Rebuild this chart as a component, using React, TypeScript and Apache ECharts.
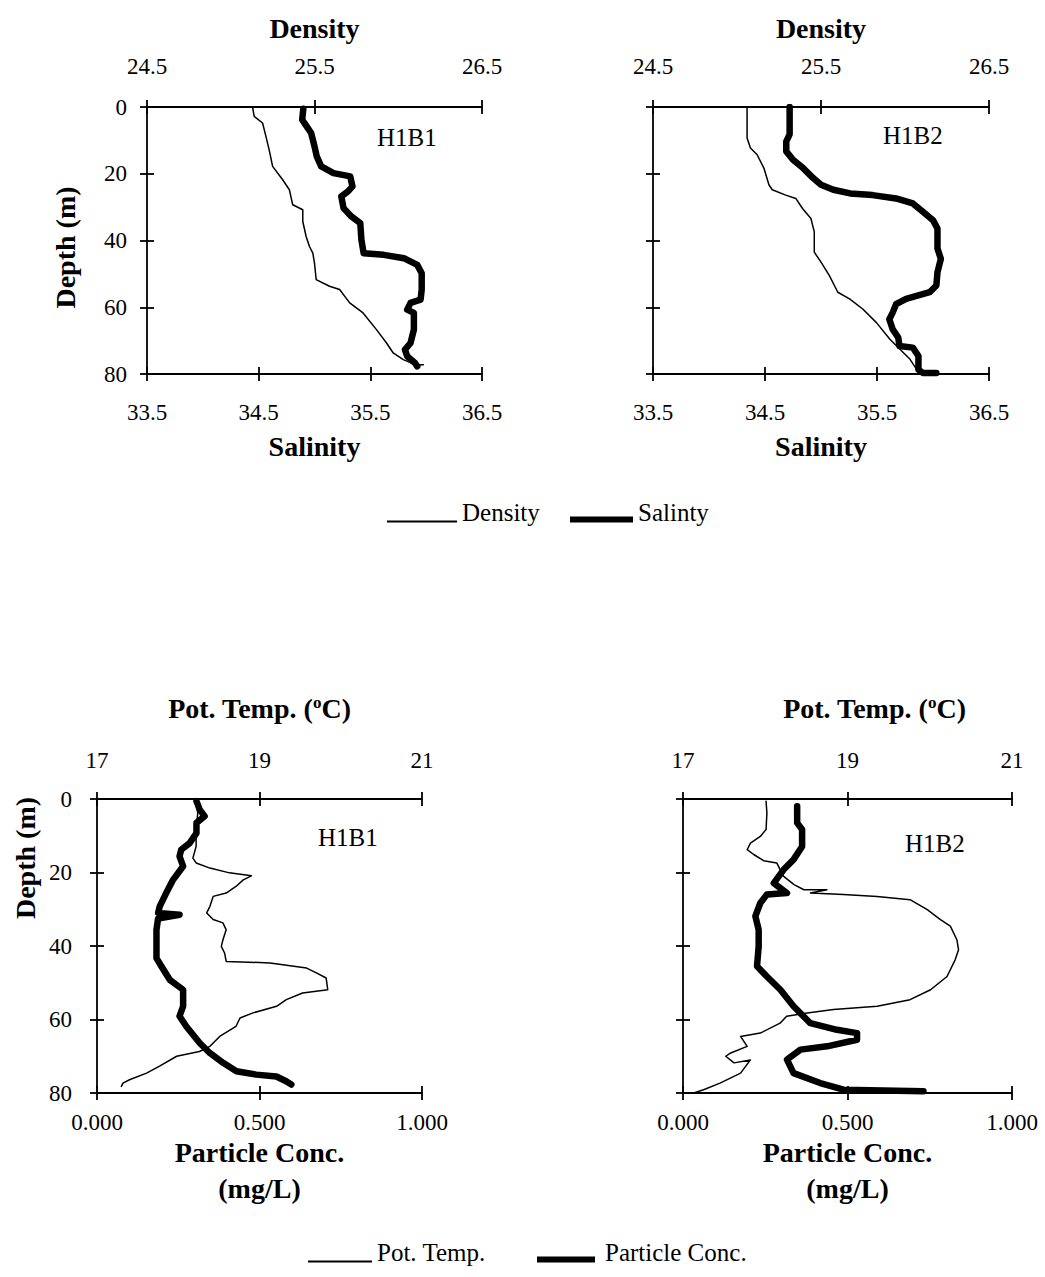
import React, { useEffect, useRef } from "react";
import * as echarts from "echarts";

const SERIF = "'Liberation Serif', 'Times New Roman', serif";

// Station H1B1 / H1B2 CTD profiles: [value, depth (m)]
const h1b1Density: number[][] = [
  [25.13, 0], [25.14, 2.8], [25.19, 4.8], [25.21, 8.8], [25.23, 13], [25.25, 17.8], [25.31, 21.8],
  [25.35, 24.8], [25.37, 29.3], [25.43, 30.8], [25.43, 34.3], [25.45, 38.8], [25.47, 41.8],
  [25.49, 43.8], [25.5, 46.8], [25.51, 51.7], [25.59, 53.7], [25.65, 54.7], [25.71, 58.7],
  [25.79, 61.7], [25.87, 66.7], [25.93, 70.7], [25.97, 73.7], [26.03, 75.7], [26.1, 77.2], [26.15, 77.2],
];
const h1b1Salinity: number[][] = [
  [34.9, 0.5], [34.89, 3.8], [34.93, 5.8], [34.97, 7.8], [35.0, 11.8], [35.02, 14.8], [35.06, 17.8],
  [35.17, 19.8], [35.32, 20.8], [35.34, 23.8], [35.3, 25.3], [35.24, 26.8], [35.26, 30.3],
  [35.33, 32.8], [35.41, 34.8], [35.42, 39.8], [35.44, 43.8], [35.62, 44.3], [35.8, 45.3],
  [35.92, 47.3], [35.96, 49.8], [35.96, 54.7], [35.95, 57.7], [35.86, 58.7], [35.83, 60.7],
  [35.89, 61.7], [35.89, 66.7], [35.86, 70.7], [35.81, 72.7], [35.83, 74.7], [35.9, 76.7], [35.92, 77.7],
];
const h1b2Density: number[][] = [
  [25.06, 0], [25.06, 9.3], [25.08, 12.3], [25.12, 14.3], [25.16, 18.3], [25.19, 23.3], [25.21, 24.8],
  [25.29, 26.4], [25.35, 27.4], [25.39, 30.4], [25.44, 33.4], [25.46, 37.4], [25.46, 43.5],
  [25.5, 46.5], [25.55, 50.5], [25.6, 55.5], [25.67, 57.5], [25.75, 60.6], [25.83, 64.6],
  [25.91, 69.6], [25.97, 72.6], [26.03, 75.6], [26.07, 78.7], [26.11, 79.7],
];
const h1b2Salinity: number[][] = [
  [34.72, 0], [34.72, 8.2], [34.69, 10.3], [34.69, 13.3], [34.75, 15.8], [34.84, 18.3], [34.93, 21.3],
  [35.0, 23.3], [35.11, 24.8], [35.26, 25.9], [35.46, 26.4], [35.67, 27.4], [35.82, 28.9],
  [35.91, 31.4], [36.0, 33.9], [36.04, 36.4], [36.04, 42.4], [36.07, 45.5], [36.04, 49.5],
  [36.03, 53.5], [35.97, 55.5], [35.76, 57.5], [35.67, 59.1], [35.64, 61.6], [35.61, 63.6],
  [35.64, 66.6], [35.69, 69.1], [35.7, 71.6], [35.82, 72.1], [35.87, 74.6], [35.87, 78.7],
  [35.91, 79.7], [36.03, 79.7],
];
const h1b1Temp: number[][] = [
  [18.22, 0.6], [18.24, 3.8], [18.22, 8.3], [18.22, 12.9], [18.18, 16.1], [18.22, 17.4], [18.39, 18.8],
  [18.63, 20.1], [18.9, 20.9], [18.8, 22.0], [18.71, 23.8], [18.59, 25.6], [18.43, 26.5],
  [18.39, 29.2], [18.35, 31.0], [18.43, 32.8], [18.55, 33.7], [18.59, 35.6], [18.55, 38.3],
  [18.53, 40.1], [18.57, 41.9], [18.59, 44.2], [19.13, 44.6], [19.58, 46.0], [19.7, 47.3],
  [19.82, 48.7], [19.84, 51.9], [19.53, 52.8], [19.33, 54.6], [19.21, 56.4], [18.92, 58.2],
  [18.76, 59.6], [18.71, 61.9], [18.51, 64.6], [18.39, 67.3], [18.26, 68.7], [17.98, 70.0],
  [17.77, 72.7], [17.61, 74.6], [17.4, 76.4], [17.32, 77.3], [17.3, 78.2],
];
const h1b1Particle: number[][] = [
  [0.306, 0.6], [0.316, 2.9], [0.331, 4.7], [0.306, 6.5], [0.306, 9.3], [0.285, 12.0], [0.259, 13.8],
  [0.254, 15.6], [0.265, 18.3], [0.234, 22.0], [0.213, 25.6], [0.193, 29.2], [0.188, 31.0],
  [0.254, 31.5], [0.188, 32.5], [0.183, 35.6], [0.183, 40.1], [0.183, 43.3], [0.198, 45.5],
  [0.224, 49.2], [0.265, 51.9], [0.265, 56.4], [0.254, 59.1], [0.275, 61.9], [0.316, 66.4],
  [0.347, 69.1], [0.388, 71.8], [0.429, 74.1], [0.49, 75.0], [0.552, 75.5], [0.582, 76.8], [0.598, 77.7],
];
const h1b2Temp: number[][] = [
  [18.01, 0.6], [18.02, 3.8], [18.01, 8.3], [17.94, 10.2], [17.82, 12.0], [17.78, 13.8], [17.86, 15.1],
  [17.98, 16.8], [18.14, 17.4], [18.22, 21.0], [18.35, 23.3], [18.47, 24.7], [18.75, 24.7],
  [18.55, 25.6], [18.95, 26.0], [19.36, 26.5], [19.76, 27.4], [19.97, 30.1], [20.13, 32.8],
  [20.25, 34.6], [20.33, 38.3], [20.35, 41.0], [20.31, 43.7], [20.21, 48.3], [20.01, 51.9],
  [19.76, 54.6], [19.36, 56.4], [18.83, 57.3], [18.51, 58.2], [18.26, 59.1], [18.18, 61.0],
  [17.94, 63.7], [17.7, 64.6], [17.78, 67.3], [17.58, 69.1], [17.52, 70.0], [17.62, 71.8],
  [17.82, 71.0], [17.7, 74.6], [17.45, 77.3], [17.25, 79.1], [17.13, 80],
];
const h1b2Particle: number[][] = [
  [0.347, 2.0], [0.347, 6.5], [0.362, 8.3], [0.362, 12.9], [0.336, 16.5], [0.306, 19.2], [0.276, 22.9],
  [0.316, 25.6], [0.255, 26.0], [0.235, 28.3], [0.22, 31.9], [0.23, 35.6], [0.23, 40.1],
  [0.225, 45.5], [0.255, 48.3], [0.296, 51.9], [0.336, 56.4], [0.387, 61.0], [0.468, 62.8],
  [0.529, 63.7], [0.529, 65.5], [0.438, 67.3], [0.357, 68.2], [0.316, 70.9], [0.336, 74.6],
  [0.417, 77.3], [0.488, 79.1], [0.731, 79.5],
];

// Axis tick values
const densityTicks = [24.5, 25.5, 26.5];
const salinityTicks = [33.5, 34.5, 35.5, 36.5];
const tempTicks = [17, 19, 21];
const particleTicks = [0, 0.5, 1];
const depthTicks = [0, 20, 40, 60, 80];

const BLACK = "#000";
const AXIS_W = 1.8;
const TICK_LEN = 7;

const tickFont = { fontFamily: SERIF, fontSize: 23, color: BLACK };
const nameFont = { fontFamily: SERIF, fontSize: 28, fontWeight: "bold" as const, color: BLACK };

type XCfg = {
  grid: number;
  pos: "top" | "bottom";
  min: number;
  max: number;
  ticks: number[];
  fmt: (v: number) => string;
  margin: number;
  name: string;
  nameGap: number;
  namePadding?: number[];
  lineHeight?: number;
  rich?: any;
};

function xPair(c: XCfg) {
  const common = {
    type: "value",
    gridIndex: c.grid,
    position: c.pos,
    min: c.min,
    max: c.max,
    splitLine: { show: false },
  };
  return [
    {
      ...common,
      axisLine: { show: true, onZero: false, lineStyle: { color: BLACK, width: AXIS_W } },
      axisTick: { show: true, inside: false, length: TICK_LEN, customValues: c.ticks, lineStyle: { color: BLACK, width: AXIS_W } },
      axisLabel: { show: true, customValues: c.ticks, formatter: c.fmt, margin: c.margin, ...tickFont },
      name: c.name,
      nameLocation: "middle",
      nameGap: c.nameGap,
      nameTextStyle: {
        ...nameFont,
        padding: c.namePadding || 0,
        lineHeight: c.lineHeight,
        rich: c.rich,
      },
    },
    {
      ...common,
      axisLine: { show: false, onZero: false },
      axisTick: { show: true, inside: true, length: TICK_LEN, customValues: c.ticks, lineStyle: { color: BLACK, width: AXIS_W } },
      axisLabel: { show: false },
    },
  ];
}

function yPair(grid: number, showLabels: boolean, margin: number, nameGap: number, namePadding: number[]) {
  const common = {
    type: "value",
    gridIndex: grid,
    position: "left",
    inverse: true,
    min: 0,
    max: 80,
    interval: 20,
    splitLine: { show: false },
  };
  return [
    {
      ...common,
      axisLine: { show: true, onZero: false, lineStyle: { color: BLACK, width: AXIS_W } },
      axisTick: { show: true, inside: false, length: TICK_LEN, customValues: depthTicks, lineStyle: { color: BLACK, width: AXIS_W } },
      axisLabel: { show: showLabels, customValues: depthTicks, margin, ...tickFont },
      name: showLabels ? "Depth (m)" : "",
      nameLocation: "middle",
      nameRotate: 90,
      nameGap,
      nameTextStyle: { ...nameFont, padding: namePadding },
    },
    {
      ...common,
      axisLine: { show: false, onZero: false },
      axisTick: { show: true, inside: true, length: TICK_LEN, customValues: depthTicks, lineStyle: { color: BLACK, width: AXIS_W } },
      axisLabel: { show: false },
    },
  ];
}

const fmt1 = (v: number) => v.toFixed(1);
const fmt0 = (v: number) => v.toFixed(0);
const fmt3 = (v: number) => v.toFixed(3);

const tempRich = {
  sup: { fontFamily: SERIF, fontSize: 17, fontWeight: "bold", color: BLACK, verticalAlign: "top", padding: [0, 0, 10, 0] },
};

function lineSeries(name: string, grid: number, xTop: boolean, data: number[][], width: number) {
  return {
    type: "line",
    name,
    xAxisIndex: grid * 4 + (xTop ? 0 : 2),
    yAxisIndex: grid * 2,
    data,
    symbol: "none",
    color: BLACK,
    lineStyle: { color: BLACK, width, join: "round", cap: "round" },
    z: width > 3 ? 3 : 2,
  };
}

// Legend entries sit on the text baseline: the rich-text padding lifts the label above the swatch
function legendItem(name: string, left: number, top: number, w: number, h: number, padding: number[]) {
  return {
    data: [name],
    left,
    top,
    orient: "horizontal",
    icon: "rect",
    itemWidth: w,
    itemHeight: h,
    selectedMode: false,
    padding: 0,
    itemStyle: { color: BLACK, borderWidth: 0 },
    formatter: (n: string) => `{t|${n}}`,
    textStyle: {
      fontFamily: SERIF,
      fontSize: 25,
      color: BLACK,
      rich: { t: { fontFamily: SERIF, fontSize: 25, color: BLACK, padding } },
    },
  };
}

function panelTitle(text: string, left: number, top: number) {
  return {
    text,
    left,
    top,
    padding: 0,
    textStyle: { fontFamily: SERIF, fontSize: 25, fontWeight: "normal", color: BLACK },
  };
}

export default function App() {
  const ref = useRef<HTMLDivElement>(null);

  useEffect(() => {
    if (!ref.current) return;
    const chart = echarts.init(ref.current, undefined, { renderer: "svg" });

    const grids = [
      { left: 147, top: 107, width: 335, height: 267 },
      { left: 653, top: 107, width: 336, height: 267 },
      { left: 97, top: 799, width: 325, height: 294 },
      { left: 683, top: 799, width: 329, height: 294 },
    ];

    const xAxis = [
      // H1B1 density / salinity
      ...xPair({ grid: 0, pos: "top", min: 24.5, max: 26.5, ticks: densityTicks, fmt: fmt1, margin: 29, name: "Density", nameGap: 65 }),
      ...xPair({ grid: 0, pos: "bottom", min: 33.5, max: 36.5, ticks: salinityTicks, fmt: fmt1, margin: 27, name: "Salinity", nameGap: 58 }),
      // H1B2 density / salinity
      ...xPair({ grid: 1, pos: "top", min: 24.5, max: 26.5, ticks: densityTicks, fmt: fmt1, margin: 29, name: "Density", nameGap: 65 }),
      ...xPair({ grid: 1, pos: "bottom", min: 33.5, max: 36.5, ticks: salinityTicks, fmt: fmt1, margin: 27, name: "Salinity", nameGap: 58 }),
      // H1B1 temperature / particles
      ...xPair({ grid: 2, pos: "top", min: 17, max: 21, ticks: tempTicks, fmt: fmt0, margin: 27, name: "Pot. Temp. ({sup|o}C)", nameGap: 77, rich: tempRich }),
      ...xPair({ grid: 2, pos: "bottom", min: 0, max: 1, ticks: particleTicks, fmt: fmt3, margin: 18, name: "Particle Conc.\n(mg/L)", nameGap: 34, lineHeight: 36 }),
      // H1B2 temperature / particles
      ...xPair({ grid: 3, pos: "top", min: 17, max: 21, ticks: tempTicks, fmt: fmt0, margin: 27, name: "Pot. Temp. ({sup|o}C)", nameGap: 77, rich: tempRich, namePadding: [0, 0, 0, 54] }),
      ...xPair({ grid: 3, pos: "bottom", min: 0, max: 1, ticks: particleTicks, fmt: fmt3, margin: 18, name: "Particle Conc.\n(mg/L)", nameGap: 34, lineHeight: 36 }),
    ];

    const yAxis = [
      ...yPair(0, true, 20, 68, [0, 14, 0, 0]),
      ...yPair(1, false, 20, 68, [0, 0, 0, 0]),
      ...yPair(2, true, 25, 58, [0, 0, 0, 176]),
      ...yPair(3, false, 25, 58, [0, 0, 0, 0]),
    ];

    const series = [
      lineSeries("Density", 0, true, h1b1Density, 1.5),
      lineSeries("Salinty", 0, false, h1b1Salinity, 6.5),
      lineSeries("Density", 1, true, h1b2Density, 1.5),
      lineSeries("Salinty", 1, false, h1b2Salinity, 6.5),
      lineSeries("Pot. Temp.", 2, true, h1b1Temp, 1.5),
      lineSeries("Particle Conc.", 2, false, h1b1Particle, 6.5),
      lineSeries("Pot. Temp.", 3, true, h1b2Temp, 1.5),
      lineSeries("Particle Conc.", 3, false, h1b2Particle, 6.5),
    ];

    chart.setOption({
      animation: false,
      backgroundColor: "#fff",
      textStyle: { fontFamily: SERIF },
      title: [
        panelTitle("H1B1", 377, 125),
        panelTitle("H1B2", 883, 123),
        panelTitle("H1B1", 318, 825),
        panelTitle("H1B2", 905, 831),
      ],
      legend: [
        legendItem("Density", 387, 500, 70, 2, [0, 0, 18, 0]),
        legendItem("Salinty", 570, 500, 63, 6, [0, 0, 14, 0]),
        legendItem("Pot. Temp.", 308, 1240, 64, 2, [0, 0, 18, 0]),
        legendItem("Particle Conc.", 537, 1240, 58, 6, [0, 0, 14, 5]),
      ],
      grid: grids,
      xAxis,
      yAxis,
      series,
    });

    return () => chart.dispose();
  }, []);

  return (
    <div
      ref={ref}
      style={{ position: "absolute", left: 0, top: 0, width: 1045, height: 1277, background: "#fff" }}
    />
  );
}
